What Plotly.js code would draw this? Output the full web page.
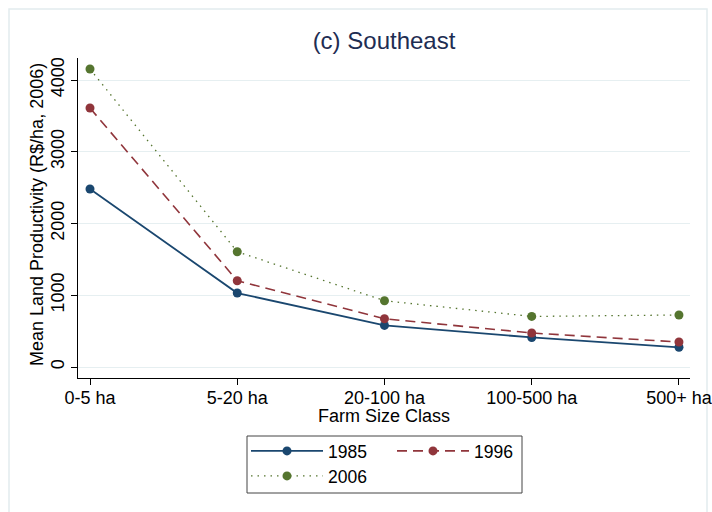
<!DOCTYPE html>
<html>
<head>
<meta charset="utf-8">
<script src="https://cdn.plot.ly/plotly-3.0.1.min.js"></script>
<style>html,body{margin:0;padding:0;background:#fff;}#chart{width:712px;height:512px;}</style>
</head>
<body>
<div id="chart"></div>
<script>
const categories = ['0-5 ha', '5-20 ha', '20-100 ha', '100-500 ha', '500+ ha'];
const v1985 = [2481, 1031, 580, 412, 275];
const v1996 = [3610, 1203, 673, 474, 348];
const v2006 = [4153, 1607, 924, 705, 725];
const yTicks = [0, 1000, 2000, 3000, 4000];

const FONT = 'Liberation Sans, Arial, sans-serif';
const NAVY = '#1a476f', MAROON = '#90353b', GREEN = '#55752f';

const traces = [
  {x: categories, y: v1985, name: '1985', type: 'scatter', mode: 'lines+markers',
   line: {color: NAVY, width: 1.8}, marker: {color: NAVY, size: 9}, legend: 'legend'},
  {x: categories, y: v1996, name: '1996', type: 'scatter', mode: 'lines+markers',
   line: {color: MAROON, width: 1.6, dash: '10px,6px'}, marker: {color: MAROON, size: 9}, legend: 'legend'},
  {x: categories, y: v2006, name: '2006', type: 'scatter', mode: 'lines+markers',
   line: {color: GREEN, width: 1.3, dash: '1.5px,5px'}, marker: {color: GREEN, size: 9}, legend: 'legend2'}
];

const L = 78, R = 22, T = 58, B = 134, W = 712, H = 512;
const pw = W - L - R, ph = H - T - B;
const px = v => (v - L) / pw;
const py = v => (H - B - v) / ph;

const layout = {
  width: W, height: H,
  margin: {l: L, r: R, t: T, b: B, pad: 0},
  paper_bgcolor: '#ffffff', plot_bgcolor: '#ffffff',
  font: {family: FONT, size: 18, color: '#000'},
  title: {text: '(c) Southeast', font: {family: FONT, size: 24, color: '#1e2d52'},
          x: 0.5, xref: 'paper', xanchor: 'center', y: 1 - 41 / H, yref: 'container', yanchor: 'middle'},
  showlegend: true,
  xaxis: {type: 'category', range: [-0.0815, 4.075], showgrid: false, zeroline: false,
          showline: true, linecolor: '#000', linewidth: 1, ticks: 'outside', ticklen: 6,
          ticklabelstandoff: -3,
          tickcolor: '#000', tickfont: {family: FONT, size: 18, color: '#000'}, fixedrange: true},
  yaxis: {range: [-153, 4307], tickvals: yTicks, ticktext: yTicks.map(String), showgrid: true,
          gridcolor: '#e6eff1', gridwidth: 1, zeroline: false, showline: true, linecolor: '#000',
          linewidth: 1, ticks: 'outside', ticklen: 6, tickcolor: '#000', tickangle: -90,
          ticklabelstandoff: 4.5,
          tickfont: {family: FONT, size: 18, color: '#000'}, fixedrange: true},
  legend: {orientation: 'h', x: px(246), xanchor: 'left', y: py(433), yanchor: 'top',
           itemwidth: 72, entrywidth: 59, entrywidthmode: 'pixels', bgcolor: 'rgba(0,0,0,0)',
           borderwidth: 0, font: {family: FONT, size: 17.5, color: '#000'}, itemclick: false},
  legend2: {orientation: 'h', x: px(246), xanchor: 'left', y: py(458), yanchor: 'top',
           itemwidth: 72, bgcolor: 'rgba(0,0,0,0)', borderwidth: 0,
           font: {family: FONT, size: 17.5, color: '#000'}, itemclick: false},
  annotations: [
    {text: 'Farm Size Class', xref: 'paper', yref: 'paper', x: 0.5, y: py(416),
     xanchor: 'center', yanchor: 'middle', showarrow: false, font: {family: FONT, size: 18, color: '#000'}},
    {text: 'Mean Land Productivity (R$/ha, 2006)', xref: 'paper', yref: 'paper', x: px(37), y: py(215),
     xanchor: 'center', yanchor: 'middle', textangle: -90, showarrow: false,
     font: {family: FONT, size: 18, color: '#000'}}
  ],
  shapes: [
    {type: 'rect', xref: 'paper', yref: 'paper', x0: px(9), x1: px(707), y0: py(530), y1: py(9),
     line: {color: '#e2ecee', width: 1.5}, layer: 'below'},
    {type: 'rect', xref: 'paper', yref: 'paper', x0: px(247), x1: px(522), y0: py(493), y1: py(436),
     line: {color: '#444', width: 1}}
  ]
};

Plotly.newPlot('chart', traces, layout, {displayModeBar: false, staticPlot: true});
</script>
</body>
</html>
